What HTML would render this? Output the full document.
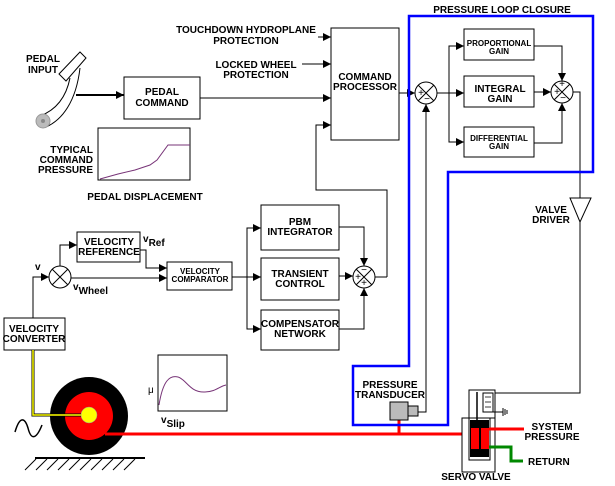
<!DOCTYPE html>
<html><head><style>
body{margin:0;background:#fff;}
svg{display:block;font-family:"Liberation Sans",sans-serif;font-weight:bold;}
text{font-size:10px;fill:#000;}
.s{font-size:8px;}
</style></head><body>
<svg width="615" height="486" viewBox="0 0 615 486" xmlns="http://www.w3.org/2000/svg">
<defs>
<marker id="a" markerWidth="8" markerHeight="8" refX="8" refY="4" orient="auto" markerUnits="userSpaceOnUse"><path d="M0,0 L8,4 L0,8 Z" fill="#000"/></marker>
</defs>
<g fill="none" stroke="#000" stroke-width="1">
<!-- pedal -->
<path d="M70,78 C66,98 56,110 40,116 L46,127 C62,120 76,102 80,68" fill="#fff"/>
<path d="M59,74 L80,52 L86,58 L66,81 Z" fill="#fff"/>
<circle cx="43" cy="121" r="7" fill="#bbb" stroke="#999"/>
<circle cx="43" cy="121" r="2" fill="#888" stroke="none"/>
<line x1="76" y1="95" x2="124" y2="95" stroke-width="2" marker-end="url(#a)"/>
<rect x="124" y="77" width="76" height="42"/>
<line x1="200" y1="98" x2="331" y2="98" marker-end="url(#a)"/>
<rect x="98" y="128" width="92" height="52"/>
<path d="M100,179 L118,174 L135,170 L150,165 L157,160 L168,145 L190,145" stroke="#737"/>
<!-- command processor -->
<rect x="331" y="28" width="68" height="112"/>
<line x1="318" y1="37" x2="331" y2="37" marker-end="url(#a)"/>
<line x1="302" y1="64" x2="331" y2="64" marker-end="url(#a)"/>
<path d="M387,277 L387,190 L316,190 L316,125 L331,125" marker-end="url(#a)"/>
<line x1="399" y1="93" x2="415" y2="93" marker-end="url(#a)"/>
<!-- sum1 -->
<circle cx="426" cy="93" r="11" fill="#fff"/>
<path d="M418,85 L434,101 M434,85 L418,101"/>
<line x1="437" y1="93" x2="464" y2="93" marker-end="url(#a)"/>
<path d="M449,93 L449,46 L464,46" marker-end="url(#a)"/>
<path d="M449,93 L449,142 L464,142" marker-end="url(#a)"/>
<rect x="464" y="29" width="70" height="31"/>
<rect x="464" y="76" width="70" height="31"/>
<rect x="464" y="127" width="70" height="30"/>
<path d="M534,46 L562,46 L562,81" marker-end="url(#a)"/>
<line x1="534" y1="92" x2="551" y2="92" marker-end="url(#a)"/>
<path d="M534,143 L562,143 L562,103" marker-end="url(#a)"/>
<circle cx="562" cy="92" r="11" fill="#fff"/>
<path d="M554,84 L570,100 M570,84 L554,100"/>
<path d="M573,92 L580,92 L580,198"/>
<path d="M570,198 L591,198 L580,222 Z"/>
<path d="M580,222 L580,393 L495,393"/>
<!-- transducer feedback -->
<path d="M418,412 L426,412 L426,104" marker-end="url(#a)"/>
<!-- velocity -->
<rect x="4" y="318" width="61" height="32"/>
<path d="M33,318 L33,277 L49,277" marker-end="url(#a)"/>
<circle cx="60" cy="277" r="11" fill="#fff"/>
<path d="M52,269 L68,285 M68,269 L52,285"/>
<path d="M60,266 L60,245 L77,245" marker-end="url(#a)"/>
<rect x="77" y="232" width="63" height="30"/>
<path d="M140,250 L146,250 L146,268 L167,268" marker-end="url(#a)"/>
<line x1="71" y1="278" x2="167" y2="278" marker-end="url(#a)"/>
<rect x="167" y="262" width="65" height="28"/>
<line x1="232" y1="277" x2="261" y2="277" marker-end="url(#a)"/>
<path d="M247,277 L247,228 L261,228" marker-end="url(#a)"/>
<path d="M247,277 L247,329 L261,329" marker-end="url(#a)"/>
<rect x="261" y="205" width="78" height="45"/>
<rect x="261" y="258" width="78" height="42"/>
<rect x="261" y="310" width="78" height="40"/>
<path d="M339,227 L364,227 L364,266" marker-end="url(#a)"/>
<line x1="339" y1="276" x2="353" y2="276" marker-end="url(#a)"/>
<path d="M339,329 L364,329 L364,288" marker-end="url(#a)"/>
<circle cx="364" cy="277" r="11" fill="#fff"/>
<path d="M356,269 L372,285 M372,269 L356,285"/>
<line x1="375" y1="277" x2="387" y2="277"/>
<!-- slip graph -->
<rect x="158" y="355" width="69" height="56"/>
<path d="M159,405 C163,380 170,375 178,377 C186,379 190,393 205,392 C215,392 220,386 226,385" stroke="#737"/>
<!-- ground -->
<line x1="35" y1="458" x2="145" y2="458" stroke-width="2"/>
<path d="M25,470 L36,459 M36,470 L47,459 M47,470 L58,459 M58,470 L69,459 M69,470 L80,459 M80,470 L91,459 M91,470 L102,459 M102,470 L113,459 M113,470 L124,459 M124,470 L135,459"/>
<path d="M15,432 C20,415 25,418 28,428 C31,440 36,440 42,425" stroke-width="1.5"/>
</g>
<!-- wheel -->
<circle cx="89" cy="416" r="39" fill="#000"/>
<circle cx="89" cy="416" r="24" fill="#f00"/>
<path d="M33,350 L33,415 L89,415" fill="none" stroke="#000" stroke-width="3"/>
<path d="M33,350 L33,415 L89,415" fill="none" stroke="#ff0" stroke-width="1.5"/>
<circle cx="89" cy="415" r="8" fill="#ff0" stroke="#999" stroke-width="0.5"/>
<!-- red line -->
<line x1="105" y1="434" x2="470" y2="434" stroke="#f00" stroke-width="3"/>
<line x1="399" y1="420" x2="399" y2="434" stroke="#f00" stroke-width="3"/>
<!-- blue -->
<path d="M409,16 L593,16 L593,172 L448,172 L448,425 L353,425 L353,366 L409,366 Z" fill="none" stroke="#00f" stroke-width="2.5"/>
<!-- transducer -->
<rect x="390" y="402" width="18" height="18" fill="#bbb" stroke="#000"/>
<rect x="408" y="406" width="10" height="10" fill="#bbb" stroke="#000"/>
<!-- servo valve -->
<g stroke="#000" fill="none">
<rect x="469" y="390" width="26" height="28" fill="#fff"/>
<rect x="462" y="418" width="33" height="54" fill="#fff"/>
<rect x="469" y="418" width="21" height="42" fill="#fff"/>
<rect x="483" y="393" width="10" height="19"/>
<path d="M485,397 h6 M485,402 h6 M485,407 h6" stroke-width="0.8"/>
<line x1="477" y1="392" x2="477" y2="425" stroke-width="1.5"/>
<path d="M490,412 L503,412 M503,408 L503,416 M505,409 L505,415 M507,410 L507,414"/>
</g>
<rect x="470" y="420" width="19" height="37" fill="#000"/>
<rect x="471" y="428" width="8" height="21" fill="#f00"/>
<rect x="481" y="428" width="8" height="21" fill="#f00"/>
<line x1="489" y1="429" x2="524" y2="429" stroke="#f00" stroke-width="3"/>
<path d="M489,447 L511,447 L511,461 L523,461" fill="none" stroke="#080" stroke-width="3"/>
<!-- text -->
<g text-anchor="middle">
<text x="43" y="62">PEDAL</text><text x="43" y="73">INPUT</text>
<text x="162" y="95">PEDAL</text><text x="162" y="106">COMMAND</text>
<text x="145" y="200">PEDAL DISPLACEMENT</text>
<text x="246" y="33">TOUCHDOWN HYDROPLANE</text><text x="246" y="44">PROTECTION</text>
<text x="256" y="68">LOCKED WHEEL</text><text x="256" y="78">PROTECTION</text>
<text x="365" y="80">COMMAND</text><text x="365" y="90">PROCESSOR</text>
<text x="502" y="13">PRESSURE LOOP CLOSURE</text>
<text x="499" y="46" class="s">PROPORTIONAL</text><text x="499" y="54" class="s">GAIN</text>
<text x="500" y="92">INTEGRAL</text><text x="500" y="102">GAIN</text>
<text x="499" y="141" class="s">DIFFERENTIAL</text><text x="499" y="149" class="s">GAIN</text>
<text x="551" y="213">VALVE</text><text x="551" y="223">DRIVER</text>
<text x="109" y="245">VELOCITY</text><text x="109" y="255">REFERENCE</text>
<text x="200" y="274" class="s">VELOCITY</text><text x="200" y="282" class="s">COMPARATOR</text>
<text x="300" y="225">PBM</text><text x="300" y="235">INTEGRATOR</text>
<text x="300" y="277">TRANSIENT</text><text x="300" y="287">CONTROL</text>
<text x="300" y="327">COMPENSATOR</text><text x="300" y="337">NETWORK</text>
<text x="34" y="332">VELOCITY</text><text x="34" y="342">CONVERTER</text>
<text x="390" y="388">PRESSURE</text><text x="390" y="398">TRANSDUCER</text>
<text x="552" y="430">SYSTEM</text><text x="552" y="440">PRESSURE</text>
<text x="476" y="480">SERVO VALVE</text>
</g>
<g text-anchor="end">
<text x="93" y="153">TYPICAL</text><text x="93" y="163">COMMAND</text><text x="93" y="173">PRESSURE</text>
</g>
<text x="528" y="465">RETURN</text>
<text x="35" y="270">v</text>
<text x="143" y="242">v<tspan dy="4">Ref</tspan></text>
<text x="73" y="290">v<tspan dy="4">Wheel</tspan></text>
<text x="161" y="423">v<tspan dy="4">Slip</tspan></text>
<text x="148" y="393" style="font-weight:normal">μ</text>
<g style="font-size:8px;font-weight:normal" text-anchor="middle">
<text x="421" y="96">+</text><text x="427" y="102">−</text>
<text x="562" y="87">+</text><text x="557" y="95">+</text><text x="563" y="101">−</text>
<text x="364" y="273">−</text><text x="358" y="280">+</text><text x="364" y="286">+</text>
</g>
</svg>
</body></html>
